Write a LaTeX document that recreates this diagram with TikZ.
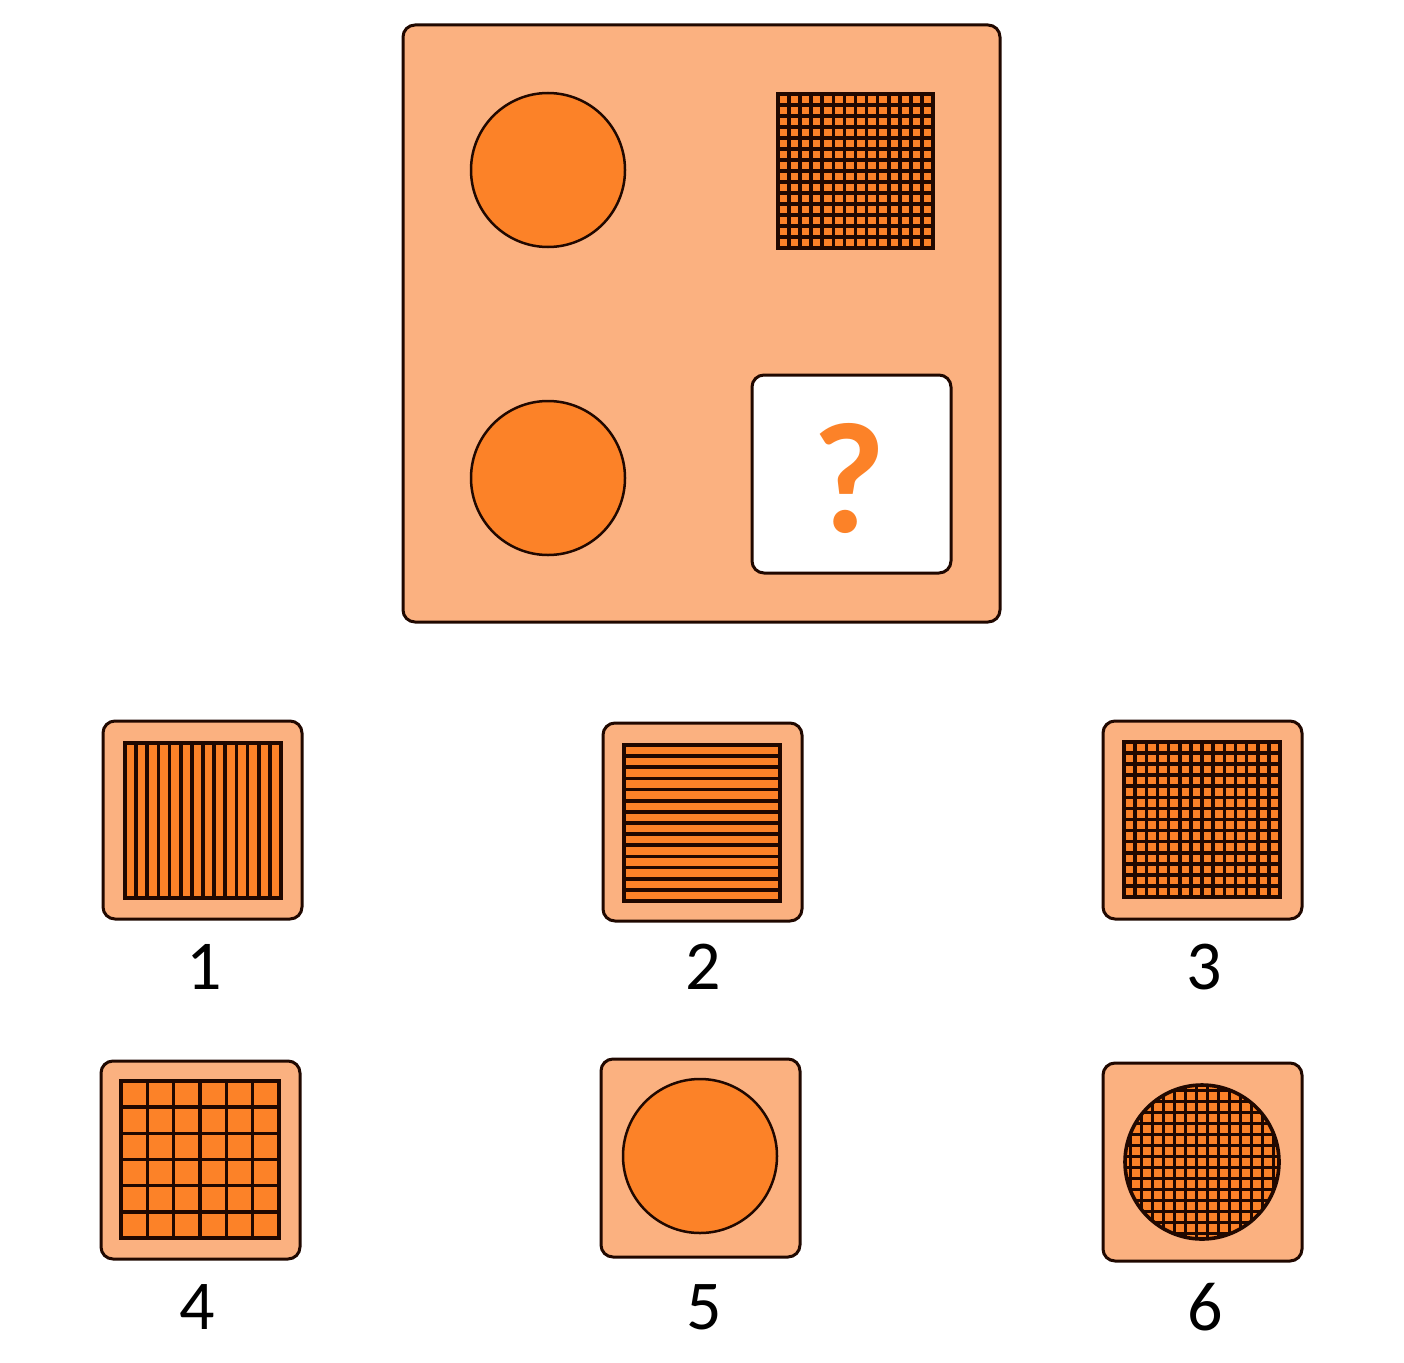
\documentclass[tikz,border=0pt]{standalone}
\usepackage{fontspec}
\setmainfont{Carlito}
\definecolor{peach}{RGB}{251,177,128}
\definecolor{org}{RGB}{252,130,40}
\definecolor{ink}{RGB}{32,8,0}
\begin{document}
\begin{tikzpicture}[x=1pt,y=-1pt,
  panel/.style={draw=ink, line width=3pt, fill=peach, rounded corners=12pt},
  whitebox/.style={draw=ink, line width=3pt, fill=white, rounded corners=12pt},
  disc/.style={draw=ink, line width=2.5pt, fill=org},
  gl/.style={draw=ink, line width=3.6pt},
  frame/.style={draw=ink, line width=3.6pt},
  lbl/.style={font=\fontsize{70}{72}\selectfont, text=black, inner sep=0pt},
  qm/.style={font=\bfseries\fontsize{158}{158}\selectfont, text=org, inner sep=0pt}]
\useasboundingbox (0,0) rectangle (1404,1362);
\fill[white] (0,0) rectangle (1404,1362);

% main panel
\draw[panel] (403,25) rectangle (1000,622);
\draw[disc] (548,170) circle (77);
\draw[disc] (548,478) circle (77);
% top-right grid 14x14
\fill[org] (778,94) rectangle (933,248);
\foreach \i in {1,...,13} {
  \draw[gl] ({778+\i*155/14},94) -- ({778+\i*155/14},248);
  \draw[gl] (778,{94+\i*154/14}) -- (933,{94+\i*154/14});
}
\draw[frame] (778,94) rectangle (933,248);
% question box
\draw[whitebox] (752,375) rectangle (951,573);
\node[qm] (q) at (849,478) {?};

% option 1
\draw[panel] (103,721) rectangle (302,919);
\fill[org] (125,743) rectangle (281,898);
\foreach \i in {1,...,13} {
  \draw[gl] ({125+\i*156/14},743) -- ({125+\i*156/14},898);
}
\draw[frame] (125,743) rectangle (281,898);
\node[lbl] (l1) at (204,967) {1};

% option 2
\draw[panel] (603,723) rectangle (802,921);
\fill[org] (624,745) rectangle (780,901);
\foreach \i in {1,...,13} {
  \draw[gl] (624,{745+\i*156/14}) -- (780,{745+\i*156/14});
}
\draw[frame] (624,745) rectangle (780,901);
\node[lbl] (l2) at (703,967) {2};

% option 3
\draw[panel] (1103,721) rectangle (1302,919);
\fill[org] (1124,742) rectangle (1280,897);
\foreach \i in {1,...,13} {
  \draw[gl] ({1124+\i*156/14},742) -- ({1124+\i*156/14},897);
  \draw[gl] (1124,{742+\i*155/14}) -- (1280,{742+\i*155/14});
}
\draw[frame] (1124,742) rectangle (1280,897);
\node[lbl] (l3) at (1204,967) {3};

% option 4
\draw[panel] (101,1061) rectangle (300,1259);
\fill[org] (121,1081) rectangle (279,1238);
\foreach \i in {1,...,5} {
  \draw[gl] ({121+\i*158/6},1081) -- ({121+\i*158/6},1238);
  \draw[gl] (121,{1081+\i*157/6}) -- (279,{1081+\i*157/6});
}
\draw[frame] (121,1081) rectangle (279,1238);
\node[lbl] (l4) at (197,1307) {4};

% option 5
\draw[panel] (601,1059) rectangle (800,1257);
\draw[disc] (700,1156) circle (77);
\node[lbl] (l5) at (704,1307) {5};

% option 6
\draw[panel] (1103,1063) rectangle (1302,1261);
\fill[org] (1202,1162) circle (77);
\begin{scope}
  \clip (1202,1162) circle (77);
  \foreach \i in {-7,...,7} {
    \draw[gl] ({1202+\i*11+5.5},1080) -- ({1202+\i*11+5.5},1245);
    \draw[gl] (1120,{1162+\i*11+5.5}) -- (1285,{1162+\i*11+5.5});
  }
\end{scope}
\draw[ink, line width=3.6pt] (1202,1162) circle (77);
\node[lbl] (l6) at (1205,1307) {6};
\end{tikzpicture}
\end{document}
